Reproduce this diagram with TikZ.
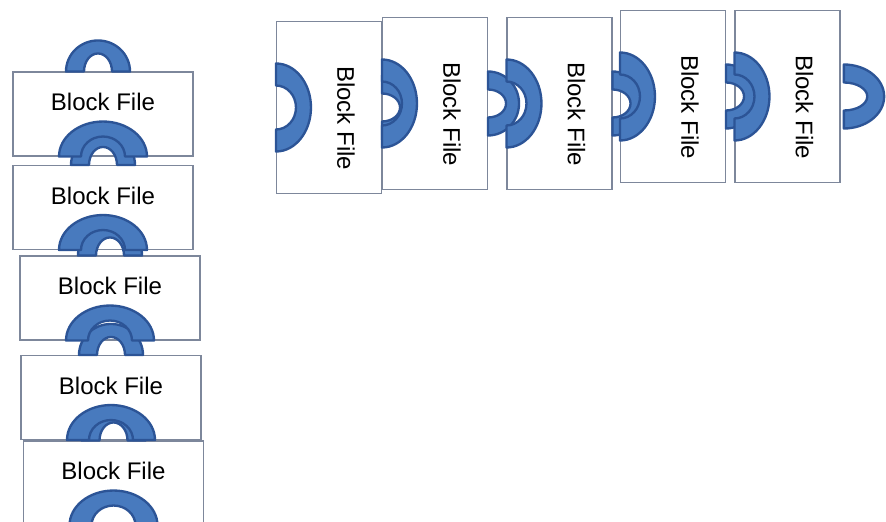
\documentclass[tikz,border=0pt]{standalone}
\usepackage{fontspec}
\setmainfont{Liberation Sans}

\definecolor{ringfill}{RGB}{72,122,190}
\definecolor{ringline}{RGB}{44,84,150}
\definecolor{boxline}{RGB}{125,135,155}

\tikzset{
  connector/.style={fill=ringfill, draw=ringline, line width=2pt, line join=round},
  filebox/.style={draw=boxline, line width=0.9pt, fill=white, inner sep=0pt},
  vfile/.style={filebox, minimum width=54mm, minimum height=25.2mm},
  hfile/.style={filebox, minimum width=31.5mm, minimum height=51.6mm},
  filetext/.style={font=\fontsize{20.5}{24}\selectfont, inner sep=0pt},
  % half ring that sticks out of a file
  plug/.pic={
    \path[connector] (32,0) arc[start angle=0, end angle=180, x radius=32, y radius=31]
      -- (-14,0) arc[start angle=180, end angle=0, x radius=14, y radius=18] -- cycle;
  },
  % wider half ring that takes the plug of the next file
  socket/.pic={
    \path[connector] (44,0) arc[start angle=0, end angle=180, x radius=44, y radius=35]
      -- (-22,0) arc[start angle=180, end angle=0, x radius=22, y radius=20] -- cycle;
  },
}

\begin{document}
\begin{tikzpicture}[x=0.3mm, y=0.3mm]
  \useasboundingbox (0,0) rectangle (886,521);
  % column of files
  \foreach \n/\x/\y in {1/103/407, 2/103/313.5, 3/110/223, 4/111/123.5, 5/113.5/38} {
    \node[vfile] (v\n) at (\x,\y) {};
    \node[filetext] (tv\n) at ([yshift=3.6mm]v\n.center) {Block File};
  }
  % row of files
  \foreach \n/\x/\y in {1/329/413.5, 2/435/417.5, 3/559.5/417.5, 4/673/424.5, 5/787.5/424.5} {
    \node[hfile] (h\n) at (\x,\y) {};
    \node[filetext, rotate=-90] (th\n) at ([xshift=5.1mm, yshift=-3.2mm]h\n.center) {Block File};
  }
  % plugs first, the sockets go over them
  \pic at ([xshift=-1.5mm]v1.north) {plug};
  \foreach \n in {2,...,5} \pic at (v\n.north) {plug};
  \foreach \n in {1,...,4} \pic[rotate=-90] at (h\n.east) {plug};
  \pic[rotate=-90, yscale=1.3] at ([xshift=1mm]h5.east) {plug};
  \foreach \n in {1,...,5} {
    \pic at (v\n.south) {socket};
    \pic[rotate=-90] at (h\n.west) {socket};
  }
\end{tikzpicture}
\end{document}
